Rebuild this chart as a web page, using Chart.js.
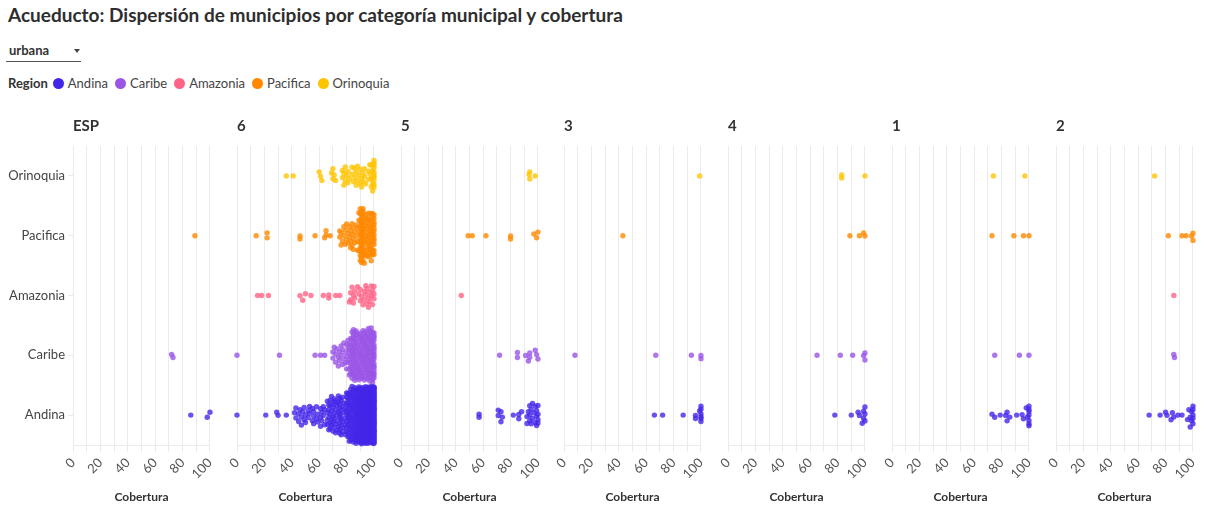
<!DOCTYPE html>
<html>
<head>
<meta charset="utf-8">
<script src="https://cdn.jsdelivr.net/npm/chart.js@4"></script>
<style>
  body { margin: 0; width: 1206px; height: 508px; background: #fff; font-family: Lato, sans-serif; color: #333; position: relative; overflow: hidden; }
  #title { position: absolute; left: 8px; top: 3px; font-size: 19px; font-weight: bold; color: #2e2e2e; }
  #select { position: absolute; left: 6px; top: 41px; width: 75px; height: 20px; border-bottom: 1px solid #555; }
  #select span { position: absolute; left: 3px; top: 1px; font-size: 13px; font-weight: bold; color: #333; }
  #select i { position: absolute; left: 68px; top: 8px; width: 0; height: 0; border-left: 3px solid transparent; border-right: 3px solid transparent; border-top: 4px solid #444; }
  #legend { position: absolute; left: 8px; top: 75px; font-size: 13px; color: #444; white-space: nowrap; }
  #legend b { color: #333; margin-right: 5px; }
  #legend .item { display: inline-block; margin-right: 7px; }
  #legend .dot { display: inline-block; width: 11px; height: 11px; border-radius: 50%; vertical-align: -1px; margin-right: 4px; }
  .facet { position: absolute; top: 100px; }
</style>
</head>
<body>
<div id="title">Acueducto: Dispersión de municipios por categoría municipal y cobertura</div>
<div id="select"><span>urbana</span><i></i></div>
<div id="legend"></div>
<div id="charts"></div>
<script>
const regions = ['Andina', 'Caribe', 'Amazonia', 'Pacifica', 'Orinoquia'];
const regionColors = ['#4327e8', '#9a55e6', '#ff6487', '#ff8800', '#ffc400'];
const facets = ['ESP', '6', '5', '3', '4', '1', '2'];

// cobertura per municipio, order: Andina, Caribe, Amazonia, Pacifica, Orinoquia
const valsESP = [[86, 98, 100], [72, 73], [], [89], []];
const vals5 = [
    [57, 57, 71, 71, 73, 73, 74, 82, 86, 86, 88, 92, 92, 93, 94, 94, 94, 95, 95, 96, 96, 97, 98, 98, 99, 99, 99, 100, 100, 100, 100],
    [72, 85, 85, 91, 93, 94, 94, 98, 99, 100],
    [44],
    [49, 52, 62, 80, 80, 97, 99, 100],
    [94, 94, 93.5, 98]
];
const vals3 = [
    [66, 72, 87, 96, 96, 99, 100, 100, 100, 100, 100, 100],
    [8, 67, 93, 100, 100],
    [],
    [43],
    [99]
];
const vals4 = [
    [78, 90, 95, 96, 98, 99, 99, 100, 100, 100],
    [65, 82, 91, 99, 100, 100],
    [],
    [89, 96, 99, 100],
    [83, 83, 100]
];
const vals1 = [
    [73, 75, 79, 83, 84, 84, 86, 91, 95, 96, 98, 99, 100, 100, 100, 100, 100, 100, 100],
    [75, 93, 100],
    [],
    [73, 89, 96, 100],
    [74, 97]
];
const vals2 = [
    [68, 76, 80, 81, 84, 85, 86, 89, 92, 96, 97, 98, 98, 99, 99, 100, 100, 100, 100, 100],
    [86, 86.5],
    [86],
    [82, 92, 95, 99, 100, 100],
    [72]
];

// categoria 6 is too dense to read point by point: [cobertura, municipios]
const andina6 = [[0, 1], [21, 1], [29, 1], [30, 1], [36, 1], [42, 1], [43, 2], [45, 2], [46, 1], [47, 2], [48, 1], [49, 2],
    [50, 2], [52, 2], [53, 2], [55, 2], [56, 3], [58, 2], [59, 2], [61, 3], [62, 2], [63, 2], [64, 2],
    [66, 4], [67, 4], [68, 5], [69, 4], [70, 5], [71, 5], [72, 4], [73, 4], [74, 4], [75, 8], [76, 6], [77, 4], [78, 3], [79, 4],
    [80, 8], [81, 9], [82, 9], [83, 10], [84, 10], [85, 10], [86, 12], [87, 12], [88, 12], [89, 15], [90, 18], [91, 18],
    [92, 18], [93, 20], [94, 20], [95, 22], [96, 22], [97, 24], [98, 26], [99, 30], [100, 60]];
const caribe6 = [[0, 1], [31, 1], [57, 1], [61, 1], [64, 1], [70, 2], [71, 1], [72, 2], [73, 1], [74, 2], [75, 2], [76, 2],
    [77, 2], [78, 2], [79, 2], [80, 3], [81, 3], [82, 6], [83, 6], [84, 8], [85, 10], [86, 10], [87, 8], [88, 7], [89, 7],
    [90, 8], [91, 8], [92, 8], [93, 8], [94, 8], [95, 9], [96, 9], [97, 9], [98, 10], [99, 10], [100, 18]];
const amazonia6 = [[15, 1], [18, 1], [23, 1], [46, 1], [48, 1], [50, 1], [54, 1], [63, 1], [67, 2], [72, 1], [75, 1],
    [82, 1], [83, 2], [84, 1], [85, 2], [86, 2], [88, 1], [89, 1], [90, 2], [91, 1], [92, 1], [93, 2], [94, 2], [95, 2],
    [96, 2], [97, 2], [98, 2], [99, 2], [100, 3]];
const pacifica6 = [[14, 1], [22, 2], [46, 2], [57, 1], [64, 1], [65, 2], [68, 1], [75, 2], [76, 2], [77, 1], [78, 2],
    [79, 2], [80, 2], [81, 2], [82, 2], [83, 3], [84, 3], [85, 3], [86, 2], [87, 2], [88, 3], [89, 4], [90, 10], [91, 20],
    [92, 10], [93, 6], [94, 6], [95, 6], [96, 7], [97, 7], [98, 8], [99, 8], [100, 12]];
const orinoquia6 = [[36, 1], [41, 1], [60, 1], [61, 1], [62, 1], [69, 1], [70, 2], [71, 1], [72, 1], [77, 2], [78, 2],
    [79, 2], [80, 1], [81, 2], [82, 1], [84, 2], [85, 1], [86, 2], [87, 2], [88, 2], [89, 1], [90, 2], [91, 2], [92, 2],
    [93, 2], [94, 1], [96, 2], [97, 2], [98, 3], [99, 3], [100, 10]];

let expand = function (pairs) {
    let out = [];
    pairs.forEach(p => { for (let k = 0; k < p[1]; k++) out.push(p[0]); });
    return out;
}
const vals6 = [andina6, caribe6, amazonia6, pacifica6, orinoquia6].map(expand);
const facetVals = [valsESP, vals6, vals5, vals3, vals4, vals1, vals2];

// strip layout: spread grows with local density, isolated points stay on the row
let strip = function (values, row) {
    let v = values.slice().sort((a, b) => a - b);
    return v.map((x, k) => {
        let n = 0;
        v.forEach(o => { if (Math.abs(o - x) <= 2) n++; });
        let amp = 0.48 * Math.min(1, Math.sqrt((n - 1) / 50));
        let u = ((k + 1) * 0.618034) % 1;
        return { x: x, y: row + amp * (2 * u - 1) };
    });
}

function rgba(hex, a) {
    let n = parseInt(hex.slice(1), 16);
    return 'rgba(' + (n >> 16) + ',' + ((n >> 8) & 255) + ',' + (n & 255) + ',' + a + ')';
}

// legend
let legend = document.getElementById('legend');
legend.innerHTML = '<b>Region</b>' + regions.map((r, i) =>
    '<span class="item"><span class="dot" style="background:' + regionColors[i] + '"></span>' + r + '</span>').join('');

Chart.defaults.font.family = 'Lato, sans-serif';
Chart.defaults.color = '#555';

const facetTitle = {
    id: 'facetTitle',
    afterDraw(chart, args, opts) {
        let ctx = chart.ctx;
        ctx.save();
        ctx.font = 'bold 15px Lato, sans-serif';
        ctx.fillStyle = '#333';
        ctx.textBaseline = 'middle';
        ctx.fillText(opts.text, chart.chartArea.left, chart.chartArea.top - 20);
        ctx.restore();
    }
};

const gridColor = '#ebebeb';
const plotW = 141;
let holder = document.getElementById('charts');

facets.forEach((name, f) => {
    let first = f === 0;
    let yW = first ? 73 : 20;
    let left = Math.round(73 + 163.8 * f) - yW;
    let div = document.createElement('div');
    div.className = 'facet';
    div.style.left = left + 'px';
    let canvas = document.createElement('canvas');
    canvas.width = yW + plotW + 10;
    canvas.height = 408;
    div.appendChild(canvas);
    holder.appendChild(div);

    let datasets = regions.map((r, i) => ({
        label: r,
        data: strip(facetVals[f][i], i),
        backgroundColor: rgba(regionColors[i], 0.8),
        borderWidth: 0,
        pointRadius: 2.7,
        clip: false
    }));

    new Chart(canvas, {
        type: 'scatter',
        data: { datasets: datasets },
        plugins: [facetTitle],
        options: {
            responsive: false,
            animation: false,
            devicePixelRatio: 1,
            layout: { padding: { top: 46, right: 10, bottom: 0, left: 0 } },
            plugins: {
                legend: { display: false },
                tooltip: { enabled: false },
                facetTitle: { text: name }
            },
            scales: {
                x: {
                    type: 'linear',
                    min: 0,
                    max: 100,
                    afterFit: s => { s.height = 63; },
                    ticks: {
                        stepSize: 10,
                        autoSkip: false,
                        minRotation: 45,
                        maxRotation: 45,
                        padding: 3,
                        color: '#555',
                        font: { size: 13 },
                        callback: v => (v % 20 === 0 ? String(v) : '')
                    },
                    grid: { color: gridColor, tickLength: 7 },
                    border: { display: true, color: gridColor },
                    title: {
                        display: true,
                        text: 'Cobertura',
                        color: '#333',
                        font: { size: 12, weight: 'bold' },
                        padding: { top: 4, bottom: 4 }
                    }
                },
                y: {
                    type: 'linear',
                    min: -0.5,
                    max: 4.5,
                    afterFit: s => { s.width = yW; },
                    afterBuildTicks: s => { s.ticks = [0, 1, 2, 3, 4].map(v => ({ value: v })); },
                    ticks: {
                        display: first,
                        padding: 3,
                        color: '#444',
                        font: { size: 13 },
                        callback: v => regions[v]
                    },
                    grid: { display: first, drawOnChartArea: false, tickLength: 5, color: gridColor },
                    border: { display: false }
                }
            }
        }
    });
});
</script>
</body>
</html>
